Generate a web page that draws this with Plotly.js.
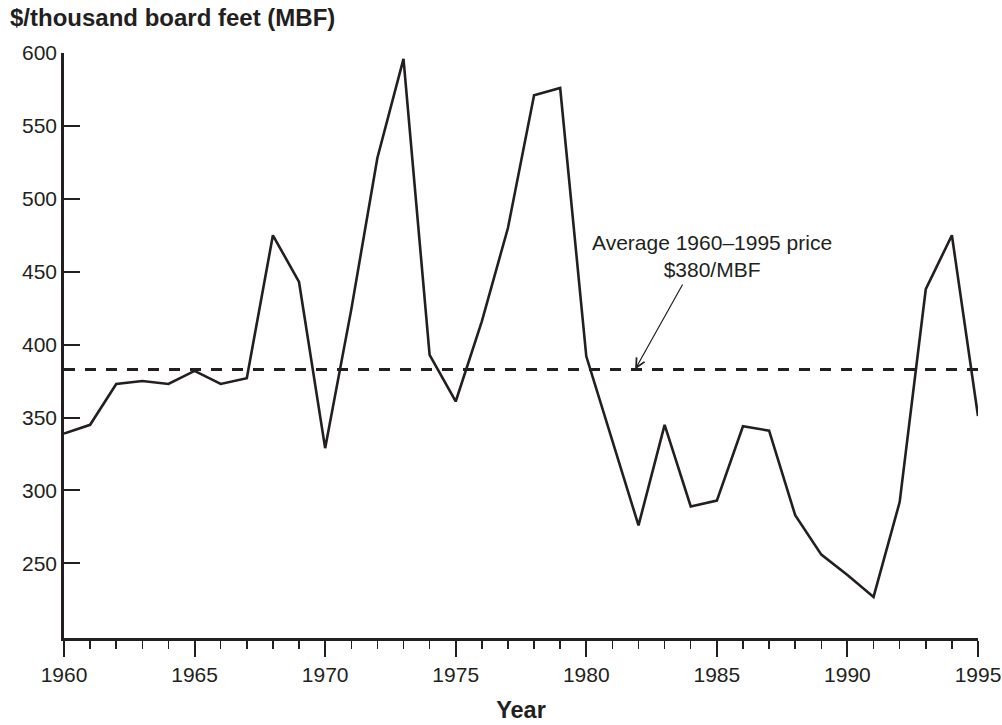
<!DOCTYPE html>
<html>
<head>
<meta charset="utf-8">
<script src="https://cdn.plot.ly/plotly-3.0.1.min.js"></script>
<style>html,body{margin:0;padding:0;background:#fff;}#chart{width:1002px;height:725px;}</style>
</head>
<body>
<div id="chart"></div>
<script>
const years = [1960,1961,1962,1963,1964,1965,1966,1967,1968,1969,1970,1971,1972,1973,1974,1975,1976,1977,1978,1979,1980,1981,1982,1983,1984,1985,1986,1987,1988,1989,1990,1991,1992,1993,1994,1995];
const prices = [339,345,373,375,373,382,373,377,475,443,329,424,528,596,393,361,416,480,571,576,392,334,276,345,289,293,344,341,283,256,242,227,292,438,475,351];
const avgPrice = 383;
const yTickVals = [250,300,350,400,450,500,550,600];
const xTickVals = [1960,1965,1970,1975,1980,1985,1990,1995];
const titleText = '$/thousand board feet (MBF)';
const xTitleText = 'Year';
const noteText = 'Average 1960–1995 price<br>$380/MBF';
const arrowYear = 1981.87;

const ink = '#231f20';
const fontFam = '"Liberation Sans", Arial, Helvetica, sans-serif';

const data = [{
  x: years, y: prices, type: 'scatter', mode: 'lines',
  line: {color: ink, width: 2.6}, hoverinfo: 'skip', cliponaxis: false
}];

const layout = {
  width: 1002, height: 725,
  margin: {l: 64, r: 24, t: 53, b: 87},
  paper_bgcolor: '#fff', plot_bgcolor: '#fff',
  showlegend: false,
  font: {family: fontFam, color: ink, size: 21},
  title: {text: '<b>' + titleText + '</b>', xref: 'container', yref: 'container',
          x: 10/1002, xanchor: 'left', y: 1 - 18/725, yanchor: 'middle',
          font: {family: fontFam, size: 24, color: ink}},
  xaxis: {
    range: [1960, 1995], showgrid: false, zeroline: false,
    showline: true, linecolor: ink, linewidth: 2.8,
    tickmode: 'array', tickvals: xTickVals, ticktext: xTickVals.map(String),
    ticks: 'outside', ticklen: 16, tickwidth: 2, tickcolor: ink,
    minor: {dtick: 1, tick0: 1960, ticks: 'outside', ticklen: 8, tickwidth: 1.5, tickcolor: ink, showgrid: false},
    tickfont: {family: fontFam, size: 21, color: ink},
    title: {text: '<b>' + xTitleText + '</b>', font: {family: fontFam, size: 23.5, color: ink}, standoff: 17}
  },
  yaxis: {
    range: [198.8, 600], showgrid: false, zeroline: false,
    showline: true, linecolor: ink, linewidth: 2.8,
    tickmode: 'array', tickvals: yTickVals, ticktext: yTickVals.map(String),
    ticks: 'inside', ticklen: 16, tickwidth: 2, tickcolor: ink,
    tickfont: {family: fontFam, size: 21, color: ink}
  },
  shapes: [{
    type: 'line', xref: 'paper', yref: 'y', x0: 0, x1: (984-64)/914, y0: avgPrice, y1: avgPrice,
    line: {color: ink, width: 3, dash: '11px,10px'}
  }],
  annotations: [
    {xref: 'x', yref: 'y', x: 1984.83, y: 460.6, text: noteText, showarrow: false,
     xanchor: 'center', yanchor: 'middle', align: 'center',
     font: {family: fontFam, size: 21, color: ink}},
    {xref: 'x', yref: 'y', x: arrowYear, y: avgPrice, axref: 'x', ayref: 'y', ax: 1983.72, ay: 442.3,
     text: '', showarrow: true, arrowhead: 5, arrowsize: 1.5, arrowwidth: 1.2, arrowcolor: ink, standoff: 0}
  ]
};

Plotly.newPlot('chart', data, layout, {displayModeBar: false, staticPlot: true});
</script>
</body>
</html>
